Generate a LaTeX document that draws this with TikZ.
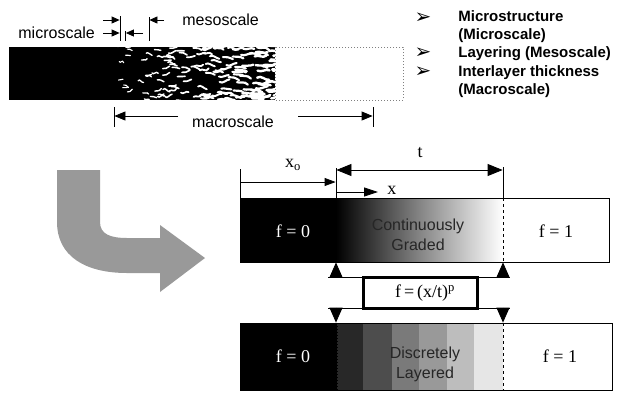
\documentclass[tikz,border=0pt]{standalone}
\usepackage{fontspec}
\setmainfont{Liberation Serif}
\setsansfont{Liberation Sans}
\newfontfamily\symfont{DejaVu Sans}
\usetikzlibrary{arrows.meta}

\definecolor{bendgray}{RGB}{153,153,153}
\definecolor{layA}{RGB}{40,40,40}
\definecolor{layB}{RGB}{77,77,77}
\definecolor{layC}{RGB}{122,122,122}
\definecolor{layD}{RGB}{153,153,153}
\definecolor{layE}{RGB}{189,189,189}
\definecolor{layF}{RGB}{230,230,230}

\tikzset{
  block/.style={anchor=north west, inner sep=0pt, outer sep=0pt},
  smalltip/.style={-{Triangle[length=8pt,width=7pt]}},
  midtip/.style={-{Triangle[length=11pt,width=9pt]}},
  bigtips/.style={{Triangle[length=15pt,width=12pt]}-{Triangle[length=15pt,width=12pt]}},
  xtip/.style={-{Triangle[length=14pt,width=9pt]}},
  stemtip/.style={-{Triangle[length=15pt,width=13pt]}},
  sanslabel/.style={font=\sffamily\fontsize{16}{20}\selectfont, inner sep=0pt},
  listtext/.style={font=\sffamily\bfseries\fontsize{15}{18}\selectfont, anchor=base west, inner sep=0pt},
  listmark/.style={font=\symfont\bfseries\fontsize{20}{22}\selectfont, anchor=base, inner sep=0pt},
  seriflabel/.style={font=\fontsize{18}{21}\selectfont, inner sep=0pt},
}

\begin{document}
\begin{tikzpicture}[x=1pt, y=-1pt, line width=0.8pt]
\useasboundingbox (0,0) rectangle (635,392);

% ---------- top strip: solid part, microstructure, empty remainder ----------
\draw[dotted, gray, line width=1pt] (275,47) rectangle (403,100);
\node[block, fill=black, minimum width=107pt, minimum height=53pt] (solid) at (9,47) {};
\begin{scope}
  \clip (116,47) rectangle (275,100);
  \fill[black] (116,47) rectangle (275,100);
  \pgfmathsetseed{17}
  \foreach \i in {1,...,150}{
    \pgfmathsetmacro{\u}{pow(rnd+0.001,0.8)}
    \pgfmathsetmacro{\px}{110+168*\u}
    \pgfmathsetmacro{\py}{45+57*rnd}
    \pgfmathsetmacro{\len}{4+9*\u}
    \pgfmathsetmacro{\wid}{1+1.6*\u}
    \pgfmathsetmacro{\wa}{-3+6*rnd}
    \pgfmathsetmacro{\ax}{\px+0.33*\len}
    \pgfmathsetmacro{\ay}{\py+\wa}
    \pgfmathsetmacro{\bx}{\px+0.66*\len}
    \pgfmathsetmacro{\by}{\py-\wa}
    \pgfmathsetmacro{\ex}{\px+\len}
    \pgfmathsetmacro{\ey}{\py-3+6*rnd}
    \draw[white, line width=\wid pt, line cap=round]
      (\px,\py) .. controls (\ax,\ay) and (\bx,\by) .. (\ex,\ey);
  }
\end{scope}
\node[block, minimum width=159pt, minimum height=53pt] (structure) at (116,47) {};

% ---------- scale dimensions ----------
\coordinate (tA1) at (120,16);  \coordinate (tA2) at (120,41);
\coordinate (tB1) at (125.5,31);\coordinate (tB2) at (125.5,41);
\coordinate (tC1) at (149,17);  \coordinate (tC2) at (149,41);
\draw (tA1) -- (tA2);
\draw (tB1) -- (tB2);
\draw (tC1) -- (tC2);
\coordinate (mA) at (103,20);   \coordinate (mA2) at (119.6,20);
\coordinate (mB) at (103,33);   \coordinate (mB2) at (119.6,33);
\coordinate (mC) at (143,33);   \coordinate (mC2) at (125.9,33);
\coordinate (mD) at (164,20);   \coordinate (mD2) at (149.4,20);
\draw[smalltip] (mA) -- (mA2);
\draw[smalltip] (mB) -- (mB2);
\draw[smalltip] (mC) -- (mC2);
\draw[smalltip] (mD) -- (mD2);
\node[sanslabel, anchor=base west] (microlbl) at (18,38) {microscale};
\node[sanslabel, anchor=base west] (mesolbl) at (182,25) {mesoscale};

\coordinate (macL1) at (114,107); \coordinate (macL2) at (114,127);
\coordinate (macR1) at (373,107); \coordinate (macR2) at (373,127);
\draw (macL1) -- (macL2);
\draw (macR1) -- (macR2);
\node[sanslabel, anchor=base] (macrolbl) at (233,127) {macroscale};
\draw[midtip] (178,116) coordinate (macA) -- (114.4,116) coordinate (macB);
\draw[midtip] (298,116) coordinate (macC) -- (372.6,116) coordinate (macD);

% ---------- list of scales ----------
\node[listmark] (b1) at (423,23) {➢};
\node[listmark] (b2) at (423,58.5) {➢};
\node[listmark] (b3) at (423,77) {➢};
\node[listtext] (l1) at (458,21) {Microstructure};
\node[listtext] (l2) at (458,39) {(Microscale)};
\node[listtext] (l3) at (458,57.5) {Layering (Mesoscale)};
\node[listtext] (l4) at (458,76) {Interlayer thickness};
\node[listtext] (l5) at (458,94.5) {(Macroscale)};

% ---------- bent arrow ----------
\fill[bendgray] (57,170) -- (100,170) -- (100,222)
  .. controls (100,234) and (110,238) .. (127,238) -- (160,238) -- (160,225)
  -- (205,258) -- (160,292) -- (160,273) -- (127,273)
  .. controls (85,273) and (57,256) .. (57,222) -- cycle;

% ---------- continuously graded bar ----------
\node[block, draw, minimum width=369pt, minimum height=64pt] (bar1) at (240,198) {};
\fill[black] (240,198) rectangle (336,262);
\shade[left color=black, right color=white, middle color=black!48] (336,198) rectangle (503,262);
\draw (bar1.north west) rectangle (bar1.south east);
\draw[dashed, line width=1pt] (503,198) -- (503,262);

\node[seriflabel, text=white] (f0a) at (293,231) {f = 0};
\node[sanslabel, align=center, text=black!85] (cg) at (418,235) {Continuously\\Graded};
\node[seriflabel] (f1a) at (556,231) {f = 1};

% ---------- dimensions above the graded bar ----------
\coordinate (d0) at (240,169);  \coordinate (d0b) at (240,198);
\coordinate (d1) at (336,168);  \coordinate (d1b) at (336,198);
\coordinate (d2) at (503,167);  \coordinate (d2b) at (503,198);
\draw (d0) -- (d0b);
\draw (d1) -- (d1b);
\draw (d2) -- (d2b);
\draw[-{Triangle[length=11pt,width=8pt]}] (240,182) coordinate (x0a) -- (335.6,182) coordinate (x0b);
\draw[bigtips] (336.4,170) coordinate (ta) -- (502.6,170) coordinate (tb);
\draw[xtip] (336,192) coordinate (xa) -- (378,192) coordinate (xb);
\node[seriflabel] (x0lbl) at (293,165) {x\textsubscript{o}};
\node[seriflabel] (tlbl) at (420,153) {t};
\node[seriflabel, anchor=west] (xlbl) at (387,190) {x};

% ---------- exponent law between the bars ----------
\node[draw, line width=3pt, minimum width=114pt, minimum height=31pt, inner sep=0pt] (law) at (420,292.5) {};
\node[seriflabel] (lawtext) at (425,293) {f\,=\,(x/t)\textsuperscript{p}};
\draw (328,277) coordinate (u1) -- (510,277) coordinate (u2);
\draw (328,308) coordinate (w1) -- (510,308) coordinate (w2);
\draw[stemtip] (336,277.5) coordinate (pu1) -- (336,262.4) coordinate (pu1b);
\draw[stemtip] (503,277.5) coordinate (pu2) -- (503,262.4) coordinate (pu2b);
\draw[stemtip] (336,307.5) coordinate (pd1) -- (336,322.6) coordinate (pd1b);
\draw[stemtip] (503,307.5) coordinate (pd2) -- (503,322.6) coordinate (pd2b);

% ---------- discretely layered bar ----------
\node[block, minimum width=372pt, minimum height=67pt] (bar2) at (240,323) {};
\fill[black] (240,323) rectangle (337,390);
\fill[layA] (337,323) rectangle (363,390);
\fill[layB] (363,323) rectangle (392,390);
\fill[layC] (392,323) rectangle (419,390);
\fill[layD] (419,323) rectangle (447,390);
\fill[layE] (447,323) rectangle (474,390);
\fill[layF] (474,323) rectangle (503,390);
\draw (bar2.north west) rectangle (bar2.south east);
\draw[dotted, line width=1pt] (337,323) -- (337,390);
\draw[dashed, line width=1pt] (503,323) -- (503,390);

\node[seriflabel, text=white] (f0b) at (293,356) {f = 0};
\node[sanslabel, align=center, text=black!85] (dl) at (425,364) {Discretely\\Layered};
\node[seriflabel] (f1b) at (560,356) {f = 1};
\end{tikzpicture}
\end{document}
